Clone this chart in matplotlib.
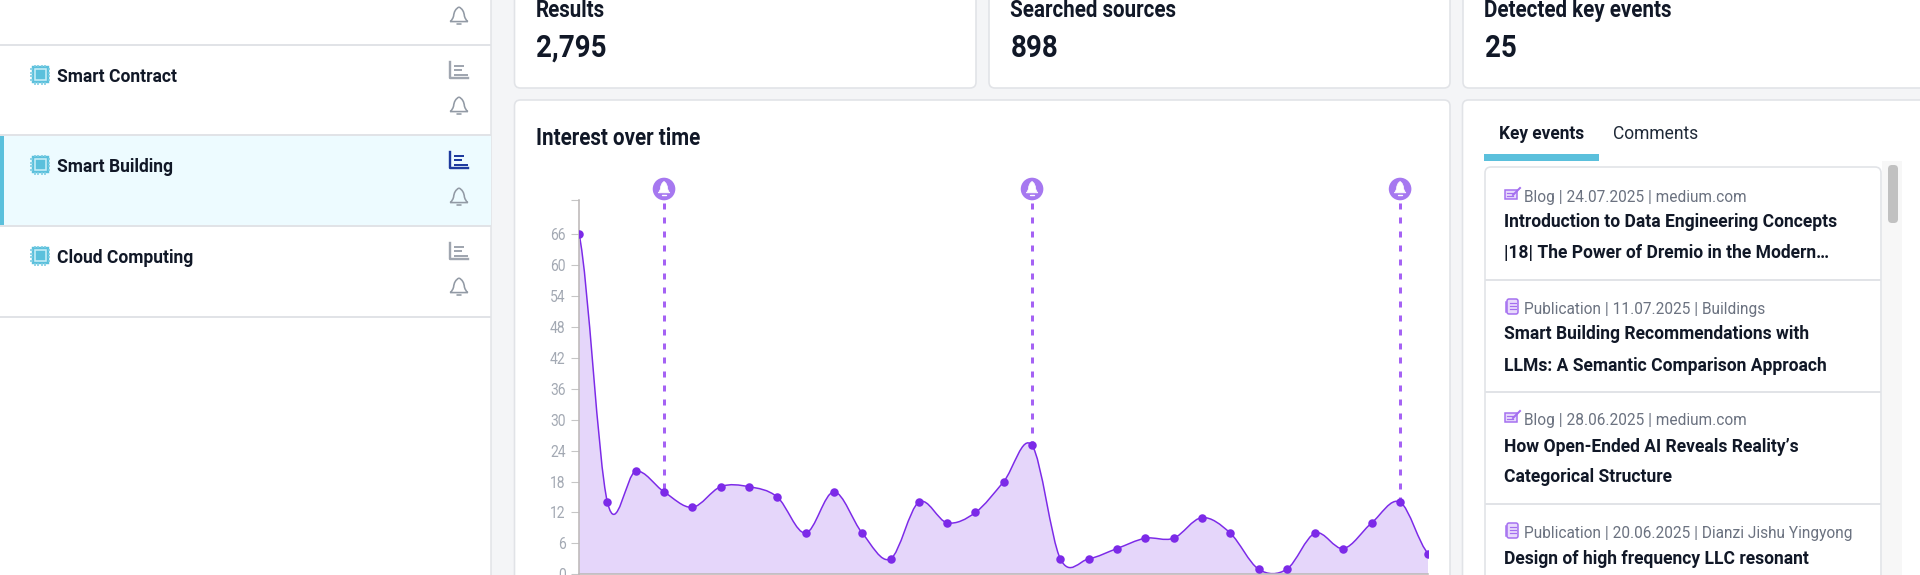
import numpy as np
import matplotlib
matplotlib.use("Agg")
import matplotlib.pyplot as plt
from matplotlib.patches import FancyBboxPatch, Rectangle, Circle, PathPatch
from matplotlib.path import Path
from matplotlib import font_manager as fm
from fontTools.ttLib import TTFont

values = [66, 14, 20, 16, 13, 17, 17, 15, 8, 16, 8, 3, 14, 10, 12, 18, 25, 3, 3, 5, 7, 7, 11, 8, 1, 1, 8, 5, 10, 14, 4]
event_indices = [3, 16, 29]
y_ticks = [0, 6, 12, 18, 24, 30, 36, 42, 48, 54, 60, 66]
topics = ["Smart Contract", "Smart Building", "Cloud Computing"]
stat_labels = ["Results", "Searched sources", "Detected key events"]
stat_values = ["2,795", "898", "25"]
event_meta = ["Blog | 24.07.2025 | medium.com", "Publication | 11.07.2025 | Buildings",
              "Blog | 28.06.2025 | medium.com", "Publication | 20.06.2025 | Dianzi Jishu Yingyong"]
event_kinds = ["blog", "pub", "blog", "pub"]
event_titles = [["Introduction to Data Engineering Concepts", "|18| The Power of Dremio in the Modern…"],
                ["Smart Building Recommendations with", "LLMs: A Semantic Comparison Approach"],
                ["How Open-Ended AI Reveals Reality’s", "Categorical Structure"],
                ["Design of high frequency LLC resonant"]]


def narrow_font(weight, out, k=0.895):
    """A condensed copy of the installed Roboto, so texts stay real text at the reference's proportions."""
    src = fm.findfont(fm.FontProperties(family="Roboto", weight=weight))
    f = TTFont(src)
    glyf = f["glyf"]
    for name in glyf.keys():
        g = glyf[name]
        if g.isComposite():
            for c in g.components:
                c.x = int(round(c.x * k))
        elif g.numberOfContours > 0:
            g.coordinates.scale((k, 1))
            g.coordinates.toInt()
    hmtx = f["hmtx"]
    for name, (adv, lsb) in list(hmtx.metrics.items()):
        hmtx.metrics[name] = (int(round(adv * k)), int(round(lsb * k)))
    for tag in ("fvar", "gvar", "HVAR", "MVAR", "STAT", "avar", "fpgm", "prep", "cvt ", "hdmx"):
        if tag in f:
            del f[tag]
    f.save(out)
    return out


try:
    BOLD = narrow_font("bold", "narrow-bold.ttf")
    REG = narrow_font("normal", "narrow-regular.ttf")
    props = {"bold": {"fname": BOLD}, "normal": {"fname": REG}}
except Exception:
    props = {"bold": {"family": "Roboto", "weight": "bold"}, "normal": {"family": "Roboto"}}

BG = "#f4f5f7"; BORDER = "#e1e3e7"; CYAN = "#5bc0dc"; INK = "#111827"; GREY = "#6b7280"
ICON = "#929aa5"; BARS = "#a0a6b0"; PURPLE = "#7c2ae8"; FILL = "#e5d6fa"; BELL = "#a678f0"; DASH = "#a562f4"

fig = plt.figure(figsize=(19.2, 5.75), dpi=100, facecolor=BG)
ov = fig.add_axes([0, 0, 1, 1], zorder=0)
ov.set_xlim(0, 1920); ov.set_ylim(575, 0); ov.axis("off")


def px(v):
    return v * 0.72


def card(x0, y0, x1, y1, fc="white", ec=BORDER, z=1):
    ov.add_patch(FancyBboxPatch((x0, y0), x1 - x0, y1 - y0, boxstyle="round,pad=0,rounding_size=6",
                                fc=fc, ec=ec, lw=px(1.6), zorder=z))


def text(x, y, s, size, weight="bold", color=INK, ha="left", z=5):
    fp = fm.FontProperties(size=px(size), **props[weight])
    ov.text(x, y, s, fontproperties=fp, color=color, ha=ha, va="baseline", zorder=z)


def bell(ax_, cx, cy, s, color, lw=None, fill=False, z=6, xs_=1.0):
    v = [(0, -1.0), (0.55, -0.72), (0.6, 0.0), (0.72, 0.45), (0.98, 0.62), (-0.98, 0.62), (-0.72, 0.45), (-0.6, 0.0), (-0.55, -0.72), (0, -1.0)]
    pts = [(cx + a * s * xs_, cy + b * s) for a, b in v]
    codes = [Path.MOVETO, Path.CURVE3, Path.CURVE3, Path.CURVE3, Path.CURVE3, Path.LINETO, Path.CURVE3, Path.CURVE3, Path.CURVE3, Path.CURVE3]
    ax_.add_patch(PathPatch(Path(pts, codes), fc=color if fill else "none", ec=color, lw=lw if lw else 0.5, zorder=z))
    ax_.plot([cx - 0.25 * s, cx + 0.25 * s], [cy + 0.88 * s, cy + 0.88 * s], color=color, lw=lw if lw else 1, solid_capstyle="round", zorder=z)


def chip(cx, cy):
    ov.add_patch(Rectangle((cx - 7.5, cy - 7.5), 15, 15, fc="#c8eef7", ec=CYAN, lw=px(2.4), zorder=5))
    ov.add_patch(Rectangle((cx - 4.5, cy - 4.5), 9, 9, fc=CYAN, ec=CYAN, lw=0.3, zorder=6))
    for d in (-5.4, -1.8, 1.8, 5.4):
        for a, b in ((-10, -7.5), (7.5, 10)):
            ov.plot([cx + d, cx + d], [cy + a, cy + b], color="#7ccde3", lw=px(1.6), zorder=5, solid_capstyle="butt")
            ov.plot([cx + a, cx + b], [cy + d, cy + d], color="#7ccde3", lw=px(1.6), zorder=5, solid_capstyle="butt")


def bars_icon(cx, cy, color):
    ov.plot([cx - 8.5, cx - 8.5, cx + 9.5], [cy - 8, cy + 8, cy + 8], color=color, lw=px(2.4), zorder=5, solid_joinstyle="round")
    for dy, w in ((-4.5, 8.5), (0, 6), (4.5, 12.5)):
        ov.plot([cx - 3.5, cx - 3.5 + w], [cy + dy, cy + dy], color=color, lw=px(2.0), zorder=5)


def blog_icon(cx, cy):
    ov.add_patch(Rectangle((cx - 7, cy - 4), 12, 9, fc="#e8dafc", ec="#a46ff0", lw=px(1.5), zorder=5))
    ov.plot([cx - 5, cx + 1], [cy - 1, cy - 1], color="#a46ff0", lw=px(1.2), zorder=6)
    ov.plot([cx - 5, cx + 1], [cy + 2, cy + 2], color="#a46ff0", lw=px(1.2), zorder=6)
    ov.plot([cx + 1, cx + 8], [cy + 1, cy - 6], color="#a46ff0", lw=px(2), zorder=6)


def pub_icon(cx, cy):
    ov.add_patch(FancyBboxPatch((cx - 5, cy - 7), 11, 15, boxstyle="round,pad=0,rounding_size=2", fc="#e8dafc", ec="#a46ff0", lw=px(1.5), zorder=5))
    for d in (-3, 0, 3):
        ov.plot([cx - 2, cx + 4], [cy + d, cy + d], color="#a46ff0", lw=px(1.2), zorder=6)
    ov.plot([cx - 6.5, cx - 6.5], [cy - 4, cy + 6], color="#a46ff0", lw=px(1.5), zorder=5)


# left panel
ov.add_patch(Rectangle((0, 0), 491, 575, fc="white", ec="none", zorder=1))
ov.plot([491, 491], [0, 575], color=BORDER, lw=px(1.5), zorder=2)
ov.add_patch(Rectangle((0, 136), 491, 89, fc="#edfbff", ec="none", zorder=2))
ov.add_patch(Rectangle((0, 136), 4, 89, fc=CYAN, ec="none", zorder=3))
for y in (45, 135, 226, 316.5):
    ov.plot([0, 491], [y, y], color=BORDER, lw=px(2), zorder=3, solid_capstyle="butt")
bell(ov, 459, 16, 9, ICON, lw=px(1.6))
row_y = [82, 172, 263]
bell_y = [106, 197, 287]
for i, (name, by, ry) in enumerate(zip(topics, row_y, bell_y)):
    chip(40, by - 7.5)
    text(57, by, name, 19.5)
    bars_icon(458, by - 12, "#1e3a9e" if i == 1 else BARS)
    bell(ov, 459, ry, 9, ICON, lw=px(1.6))

# stat cards
for (x0, x1), lab, val in zip([(514.5, 976), (989, 1450), (1463, 1960)], stat_labels, stat_values):
    card(x0, -30, x1, 88)
    text(x0 + 21.5, 16.8, lab, 23)
    text(x0 + 21.5, 57, val, 31)

# chart card
card(514.5, 100, 1450, 620)
text(536, 145, "Interest over time", 23)

# events card
card(1462.5, 100, 1960, 620)
text(1499, 139, "Key events", 19.3)
text(1613, 139, "Comments", 19.5, weight="normal", color="#1f2937")
ov.add_patch(Rectangle((1484, 153.5), 115, 7, fc=CYAN, ec="none", zorder=4))
ov.add_patch(Rectangle((1882, 161), 20, 420, fc="#f7f7f7", ec="none", zorder=2))
ov.add_patch(FancyBboxPatch((1888, 165), 10, 58, boxstyle="round,pad=0,rounding_size=4", fc="#c1c1c1", ec="none", zorder=4))
card(1485, 167, 1881, 620, ec=BORDER, z=2)
for y in (280, 392, 504):
    ov.plot([1485, 1881], [y, y], color=BORDER, lw=px(2), zorder=4, solid_capstyle="butt")
meta_y = [202, 314, 425, 538]
title_y = [[227, 258], [339, 371], [451.5, 482.5], [564]]
for meta, kind, my, lines, tys in zip(event_meta, event_kinds, meta_y, event_titles, title_y):
    (blog_icon if kind == "blog" else pub_icon)(1512, my - 8)
    text(1524, my, meta, 17.2, weight="normal", color=GREY)
    for line, ty in zip(lines, tys):
        text(1504, ty, line, 19.5)

# chart
X0, X1, YT, YB = 579.1, 1428.4, 200.0, 574.3
ax = fig.add_axes([X0 / 1920, (575 - YB) / 575, (X1 - X0) / 1920, (YB - YT) / 575], zorder=2)
ax.patch.set_alpha(0)
y_top = (YB - YT) / 5.153
ax.set_xlim(0, len(values) - 1); ax.set_ylim(0, y_top)

xs = np.arange(len(values), dtype=float)
ys = np.array(values, dtype=float)
verts = [(xs[0], ys[0])]
codes = [Path.MOVETO]
for i in range(len(xs) - 1):
    prev_y = ys[max(i - 1, 0)]
    next_y = ys[min(i + 2, len(ys) - 1)]
    verts += [(xs[i] + 1 / 3, ys[i] + (ys[i + 1] - prev_y) / 6), (xs[i + 1] - 1 / 3, ys[i + 1] - (next_y - ys[i]) / 6), (xs[i + 1], ys[i + 1])]
    codes += [Path.CURVE4] * 3
ax.add_patch(PathPatch(Path(verts + [(xs[-1], 0), (xs[0], 0), (xs[0], ys[0])], codes + [Path.LINETO] * 3),
                       fc=FILL, ec="none", zorder=1))
ax.add_patch(PathPatch(Path(verts, codes), fc="none", ec=PURPLE, lw=px(1.5), zorder=2))
ax.scatter(xs, ys, s=(px(8.5)) ** 2, color=PURPLE, linewidths=0, zorder=3)

dash_lw = 3.0
for i in event_indices:
    ax.plot([i, i], [y_top - 0.6, values[i]], color=DASH, lw=px(dash_lw), dashes=(6 / dash_lw, 8 / dash_lw),
            dash_capstyle="butt", zorder=2.5, clip_on=False)
    ov_x = X0 + i * (X1 - X0) / (len(values) - 1)
    ov.add_patch(Circle((ov_x, 189), 11.3, fc=BELL, ec="none", zorder=6))
    bell(ov, ov_x, 188.5, 7, "white", fill=True, z=7, xs_=0.85)

for s in ("top", "right"):
    ax.spines[s].set_visible(False)
for s in ("left", "bottom"):
    ax.spines[s].set_color("#bdb9b9"); ax.spines[s].set_linewidth(px(1.6))
ax.set_xticks([])
ax.set_yticks(y_ticks + [y_top], [str(t) for t in y_ticks] + [""])
ax.tick_params(axis="y", length=px(8.5), width=px(1.1), color="#c6c6c6", pad=px(5), labelcolor="#a3a9b3")
for t in ax.get_yticklabels():
    t.set_fontproperties(fm.FontProperties(size=px(15.5), **props["normal"]))

fig.savefig("out.png", dpi=100, facecolor=BG)
